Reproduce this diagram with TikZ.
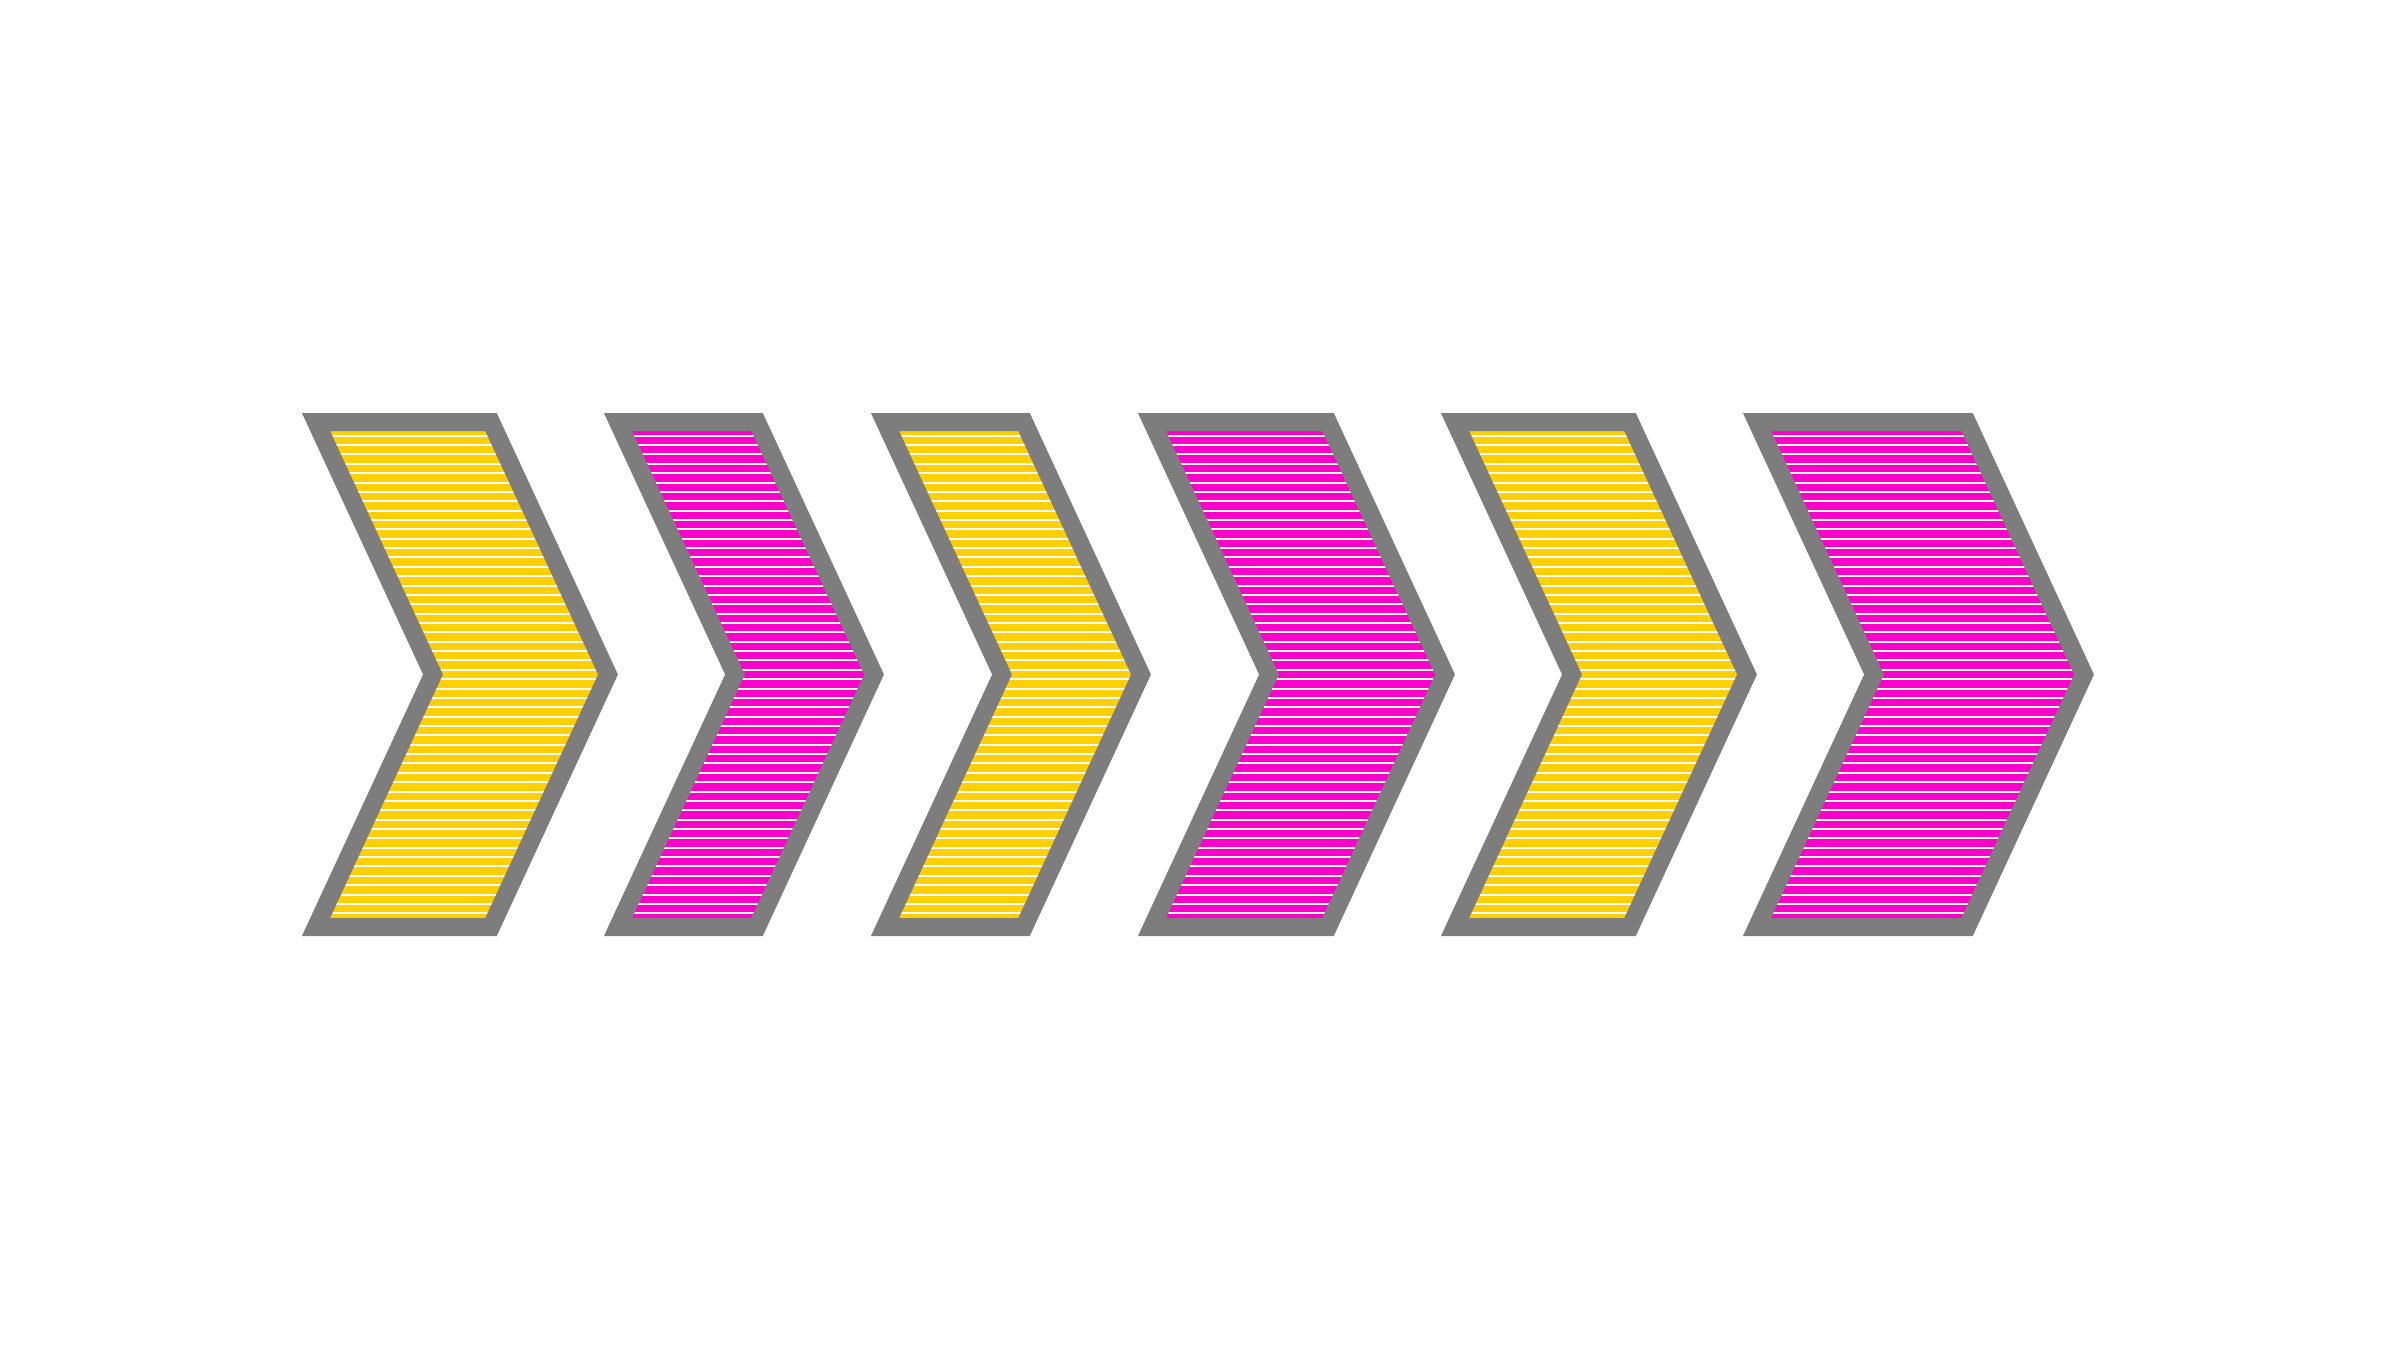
\documentclass[tikz,border=0pt]{standalone}
\usepackage{tikz}
\usetikzlibrary{calc}

\definecolor{chevyellow}{RGB}{255,208,0}
\definecolor{chevpink}{RGB}{255,0,204}
\definecolor{chevgray}{RGB}{125,125,125}

\begin{document}
\begin{tikzpicture}[
    chevborder/.style={draw=chevgray, line width=0.18cm, line join=miter},
    stripe/.style={draw=white, line width=0.02cm}
]
    \useasboundingbox (0,0) rectangle (24,13.5);
    % chevrons: left x / right x / colour
    \foreach \xl/\xr/\col in {3.16/4.91/chevyellow, 6.18/7.57/chevpink, 8.85/10.24/chevyellow,
                              11.52/13.28/chevpink, 14.55/16.30/chevyellow, 17.57/19.67/chevpink} {
        \begin{scope}
            \clip (\xl,9.28) -- (\xr,9.28) -- ({\xr+1.17},6.755) -- (\xr,4.23) -- (\xl,4.23) -- ({\xl+1.17},6.755) -- cycle;
            \fill[\col] (\xl,4) rectangle ({\xr+1.3},9.5);
            \foreach \k in {0,...,51}
                \draw[stripe] ({\xl-0.2},{9.143-0.09365*\k}) -- ({\xr+1.3},{9.143-0.09365*\k});
        \end{scope}
        \draw[chevborder] (\xl,9.28) -- (\xr,9.28) -- ({\xr+1.17},6.755) -- (\xr,4.23) -- (\xl,4.23) -- ({\xl+1.17},6.755) -- cycle;
    }
\end{tikzpicture}
\end{document}
